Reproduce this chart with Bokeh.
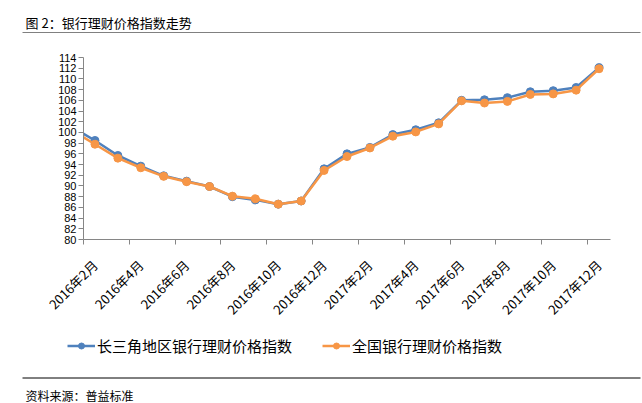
from math import pi
from bokeh.plotting import figure
from bokeh.layouts import column
from bokeh.models import Range1d, FixedTicker, Label, Legend, LegendItem
from bokeh.embed import file_html
from bokeh.resources import INLINE

# ---- data ----
months = ["2016年1月", "2016年2月", "2016年3月", "2016年4月", "2016年5月", "2016年6月",
          "2016年7月", "2016年8月", "2016年9月", "2016年10月", "2016年11月", "2016年12月",
          "2017年1月", "2017年2月", "2017年3月", "2017年4月", "2017年5月", "2017年6月",
          "2017年7月", "2017年8月", "2017年9月", "2017年10月", "2017年11月", "2017年12月"]
yrd_index = [101.0, 98.5, 95.7, 93.7, 91.9, 90.9, 89.9, 88.0, 87.4, 86.6, 87.2, 93.2,
             96.0, 97.2, 99.6, 100.5, 101.8, 106.0, 106.1, 106.5, 107.6, 107.8, 108.4, 112.1]
nat_index = [100.4, 97.8, 95.2, 93.4, 91.8, 90.8, 89.9, 88.1, 87.6, 86.6, 87.2, 92.9,
             95.5, 97.1, 99.3, 100.1, 101.6, 105.9, 105.5, 105.8, 107.1, 107.2, 107.9, 111.9]
series_names = ["长三角地区银行理财价格指数", "全国银行理财价格指数"]
label_months = [m for i, m in enumerate(months) if i % 2 == 1]
y_ticks = [80, 82, 84, 86, 88, 90, 92, 94, 96, 98, 100, 102, 104, 106, 108, 110, 112, 114]
title_text = "图 2：银行理财价格指数走势"
source_text = "资料来源：普益标准"

BLUE = "#4F81BD"
ORANGE = "#F79646"
AXIS = "#868686"
CJK = "Noto Sans CJK SC"
W = 642
NAN = float("nan")


def banner(height):
    f = figure(width=W, height=height, x_range=Range1d(0, W), y_range=Range1d(height, 0),
               min_border=0, output_backend="svg", toolbar_location=None,
               x_axis_type=None, y_axis_type=None, frame_align=False)
    f.outline_line_color = None
    f.xgrid.visible = False
    f.ygrid.visible = False
    f.background_fill_color = "white"
    f.border_fill_color = "white"
    return f


# ---- title strip ----
top = banner(33)
top.add_layout(Label(x=25, y=22, text=title_text, text_font=CJK, text_font_size="13px",
                     text_baseline="middle", text_color="#000000"))
top.segment(x0=[22], y0=[32.5], x1=[640], y1=[32.5], line_color="black", line_width=1)

# ---- main chart ----
x = list(range(len(months)))
label_pos = [months.index(m) for m in label_months]
boundary_pos = [q - 0.5 for q in label_pos]

p = figure(width=W, height=295, x_range=Range1d(0.5, 23.5), y_range=Range1d(80, 114),
           min_border_left=83, min_border_right=32, min_border_top=24, min_border_bottom=89,
           output_backend="svg", toolbar_location=None, frame_align=False)
p.outline_line_color = None
p.xgrid.visible = False
p.ygrid.visible = False
p.background_fill_color = "white"
p.border_fill_color = "white"

p.line(x, yrd_index, line_color=BLUE, line_width=2.5)
p.scatter(x[1:], yrd_index[1:], size=8, fill_color=BLUE, line_color=BLUE)
p.line(x, nat_index, line_color=ORANGE, line_width=2.5)
p.scatter(x[1:], nat_index[1:], size=8, fill_color=ORANGE, line_color=ORANGE)

xa = p.xaxis[0]
xa.ticker = FixedTicker(ticks=label_pos, minor_ticks=boundary_pos)
xa.major_label_overrides = {q: months[q] for q in label_pos}
xa.major_label_orientation = pi / 4
xa.major_tick_line_color = None
xa.minor_tick_line_color = AXIS
xa.minor_tick_out = 5
xa.minor_tick_in = 0
xa.axis_line_color = AXIS
xa.major_label_text_font = CJK
xa.major_label_text_font_size = "13px"
xa.major_label_text_color = "#000000"
xa.major_label_standoff = 17

ya = p.yaxis[0]
ya.ticker = FixedTicker(ticks=y_ticks)
ya.minor_tick_line_color = None
ya.major_tick_line_color = AXIS
ya.major_tick_out = 5
ya.major_tick_in = 0
ya.axis_line_color = AXIS
ya.major_label_text_font = "Liberation Sans"
ya.major_label_text_font_size = "11px"
ya.major_label_text_color = "#000000"
ya.major_label_standoff = 2

# ---- legend + source strip (legend keys use placeholder renderers with no visible data) ----
bot = banner(75)
kb_l = bot.line([NAN], [NAN], line_color=BLUE, line_width=2.5)
kb_s = bot.scatter([NAN], [NAN], size=6, fill_color=BLUE, line_color=BLUE)
ko_l = bot.line([NAN], [NAN], line_color=ORANGE, line_width=2.5)
ko_s = bot.scatter([NAN], [NAN], size=6, fill_color=ORANGE, line_color=ORANGE)
legend = Legend(items=[LegendItem(label=series_names[0], renderers=[kb_l, kb_s]),
                       LegendItem(label=series_names[1], renderers=[ko_l, ko_s])],
                orientation="horizontal", location=(67, 47),
                glyph_width=28, glyph_height=15, label_height=20, label_standoff=2,
                spacing=30, padding=0, margin=0, border_line_color=None,
                background_fill_alpha=0, label_text_font=CJK, label_text_font_size="15px",
                label_text_color="#000000")
bot.add_layout(legend, "center")
bot.segment(x0=[22], y0=[49.5], x1=[640], y1=[49.5], line_color="black", line_width=1)
bot.add_layout(Label(x=25, y=67, text=source_text, text_font=CJK, text_font_size="12px",
                     text_baseline="middle", text_color="#000000"))

layout = column(top, p, bot, spacing=0)
open("out.html", "w").write(file_html(layout, INLINE))
